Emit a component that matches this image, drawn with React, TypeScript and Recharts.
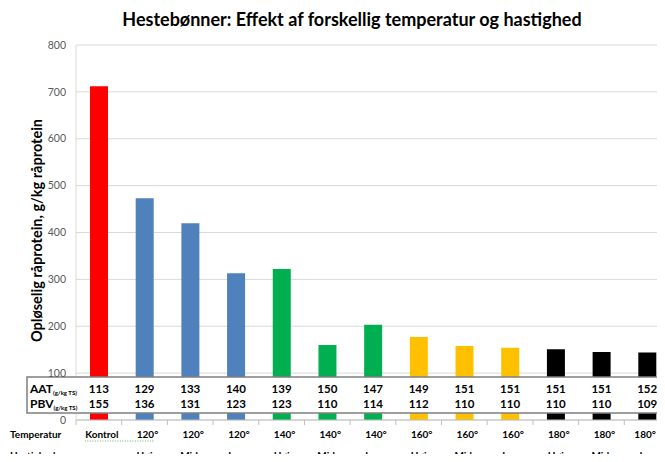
import { BarChart, Bar, XAxis, YAxis, CartesianGrid, Cell, Label } from 'recharts'

const categories = ['Kontrol', '120°', '120°', '120°', '140°', '140°', '140°', '160°', '160°', '160°', '180°', '180°', '180°']
const speeds = ['', 'Høj', 'Mid.', 'Lav', 'Høj', 'Mid.', 'Lav', 'Høj', 'Mid.', 'Lav', 'Høj', 'Mid.', 'Lav']
const solubleProtein = [712, 473, 420, 313, 322, 160, 203, 177, 158, 154, 151, 145, 144]
const aat = [113, 129, 133, 140, 139, 150, 147, 149, 151, 151, 151, 151, 152]
const pbv = [155, 136, 131, 123, 123, 110, 114, 112, 110, 110, 110, 110, 109]
const barColors = ['#ff0000', '#4f81bd', '#4f81bd', '#4f81bd', '#00b050', '#00b050', '#00b050',
  '#ffc000', '#ffc000', '#ffc000', '#000000', '#000000', '#000000']
const yTicks = [0, 100, 200, 300, 400, 500, 600, 700, 800]
// spell-check squiggles in the original, from tick i to tick j
const tempUnderline = [[0, 1]]
const speedUnderline = [[1, 2], [3, 4], [6, 7], [9, 10]]

const data = categories.map((c, i) => ({ id: String(i), temp: c, value: solubleProtein[i] }))

const W = 672
const H = 462
const LEFT = 76
const RIGHT = 2
const BAND = (W - LEFT - RIGHT) / categories.length
const FONT = 'Lato, "Open Sans", sans-serif'

const TableTick = (props: any) => {
  const { x, y, index } = props
  const textProps = { fontFamily: FONT, fontWeight: 700, fill: '#000' }
  const last = index === categories.length - 1
  return (
    <g>
      {index === 0 && (
        <>
          <rect x={27} y={y - 43} width={W} height={36} fill="#fff" stroke="#7f7f7f" strokeWidth={1.5} />
          <text x={30} y={y - 27} fontSize={12} {...textProps}>
            AAT<tspan fontSize={6} dy={2}>(g/kg TS)</tspan>
          </text>
          <text x={30} y={y - 12} fontSize={12} {...textProps}>
            PBV<tspan fontSize={6} dy={2}>(g/kg TS)</tspan>
          </text>
          <text x={10} y={y + 18} fontSize={10} {...textProps}>Temperatur</text>
          <text x={10} y={y + 39} fontSize={10} {...textProps}>Hastighed</text>
        </>
      )}
      <line x1={x - BAND / 2} x2={x - BAND / 2} y1={y} y2={y + 5} stroke="#bfbfbf" />
      <text x={x} y={y - 27} fontSize={11.5} textAnchor="middle" {...textProps}>{aat[index]}</text>
      <text x={x} y={y - 12} fontSize={11.5} textAnchor="middle" {...textProps}>{pbv[index]}</text>
      <text x={last ? x - 2 : x + 3} y={y + 18} fontSize={10} textAnchor="middle" {...textProps}>{categories[index]}</text>
      <text x={x} y={y + 39} fontSize={10} textAnchor="middle" {...textProps}>{speeds[index]}</text>
      {tempUnderline.filter(([a]) => a === index).map(([a, b]) => (
        <line key={'t' + a} x1={x - 14} x2={x + (b - a) * BAND + 9} y1={y + 21} y2={y + 21}
          stroke="#5cb85c" strokeDasharray="1 1.5" />
      ))}
      {speedUnderline.filter(([a]) => a === index).map(([a, b]) => (
        <line key={'s' + a} x1={x - 8} x2={x + (b - a) * BAND + 10} y1={y + 42} y2={y + 42}
          stroke="#5cb85c" strokeDasharray="1 1.5" />
      ))}
    </g>
  )
}

const AxisTitle = (props: any) => {
  const { viewBox } = props
  const cx = 42
  const cy = viewBox.y + viewBox.height / 2 - 2
  return (
    <text x={cx} y={cy} transform={`rotate(-90 ${cx} ${cy})`} textAnchor="middle"
      fontFamily={FONT} fontWeight={700} fontSize={14.5} fill="#000">
      Opløselig råprotein, g/kg råprotein
    </text>
  )
}

export default function App() {
  return (
    <div style={{ margin: -8, width: 665, height: H, overflow: 'hidden', position: 'relative', background: '#fff' }}>
      <div style={{
        position: 'absolute', left: 0, top: 8, width: 704, textAlign: 'center',
        fontFamily: FONT, fontWeight: 700, fontSize: 18, color: '#000', zIndex: 1,
      }}>
        Hestebønner: Effekt af forskellig temperatur og hastighed
      </div>
      <BarChart width={W} height={H} data={data} margin={{ top: 45, right: RIGHT, left: 0, bottom: 0 }}>
        <CartesianGrid vertical={false} stroke="#d9d9d9" />
        <XAxis dataKey="id" interval={0} height={42} tickSize={0} tickMargin={0}
          axisLine={{ stroke: '#bfbfbf' }} tickLine={false} tick={<TableTick />} />
        <YAxis width={LEFT} domain={[0, 800]} ticks={yTicks} tickLine={false} tickSize={0} tickMargin={10}
          axisLine={{ stroke: '#d9d9d9' }} tick={{ fill: '#595959', fontSize: 10.5, fontFamily: FONT }}>
          <Label content={<AxisTitle />} />
        </YAxis>
        <Bar dataKey="value" barSize={18} isAnimationActive={false}>
          {data.map((d, i) => (
            <Cell key={d.id} fill={barColors[i]} />
          ))}
        </Bar>
      </BarChart>
    </div>
  )
}
